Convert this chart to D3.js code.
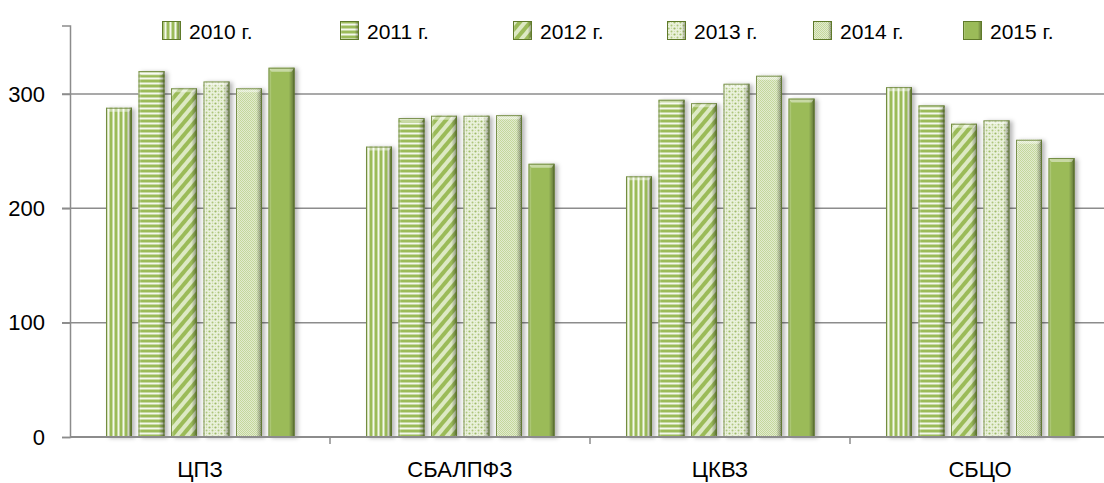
<!DOCTYPE html>
<html><head><meta charset="utf-8">
<script src="https://cdn.jsdelivr.net/npm/d3@7"></script>
<style>
html,body{margin:0;padding:0;background:#fff;}
text{font-family:"Liberation Sans",Arial,sans-serif;fill:#000;}
</style></head>
<body>
<svg id="c" width="1104" height="483"></svg>
<script>
const categories = ["ЦПЗ", "СБАЛПФЗ", "ЦКВЗ", "СБЦО"];
const years = ["2010 г.", "2011 г.", "2012 г.", "2013 г.", "2014 г.", "2015 г."];
const v2010 = [288, 254, 228, 306];
const v2011 = [320, 279, 295, 290];
const v2012 = [305, 281, 292, 274];
const v2013 = [311, 281, 309, 277];
const v2014 = [305, 281.5, 316, 260];
const v2015 = [323, 239, 296, 244];
const series = [v2010, v2011, v2012, v2013, v2014, v2015];
const yTicks = [0, 100, 200, 300];

const svg = d3.select("#c");
const defs = svg.append("defs");
const G = "#9bbb59";

function pat(id, w, h, build, extra){
  const p = defs.append("pattern").attr("id", id).attr("patternUnits","userSpaceOnUse")
    .attr("width", w).attr("height", h);
  if (extra) p.attr("patternTransform", extra);
  build(p);
}
pat("p0", 5, 10, p => { p.append("rect").attr("width",5).attr("height",10).attr("fill",G);
  p.append("rect").attr("x",2.5).attr("width",2).attr("height",10).attr("fill","#f4f8ec"); });
pat("p1", 10, 5, p => { p.append("rect").attr("width",10).attr("height",5).attr("fill",G);
  p.append("rect").attr("y",2.5).attr("width",10).attr("height",2).attr("fill","#f4f8ec"); });
pat("p2", 8, 10, p => { p.append("rect").attr("width",8).attr("height",10).attr("fill",G);
  p.append("rect").attr("width",4).attr("height",10).attr("fill","#dde9c4"); }, "rotate(40)");
pat("p3", 6, 6, p => { p.append("rect").attr("width",6).attr("height",6).attr("fill","#eaf1dc");
  p.append("circle").attr("cx",1.5).attr("cy",1.5).attr("r",1.1).attr("fill","#9fbb68");
  p.append("circle").attr("cx",4.5).attr("cy",4.5).attr("r",1).attr("fill","#adc67c");
  p.append("circle").attr("cx",4.5).attr("cy",1.2).attr("r",0.6).attr("fill","#c2d697");
  p.append("circle").attr("cx",1.3).attr("cy",4.6).attr("r",0.5).attr("fill","#c2d697"); });
pat("p4", 2, 2, p => { p.append("rect").attr("width",2).attr("height",2).attr("fill","#e2ebcf");
  p.append("rect").attr("width",1).attr("height",1).attr("fill","#c4d79b");
  p.append("rect").attr("x",1).attr("y",1).attr("width",1).attr("height",1).attr("fill","#c4d79b"); });
pat("p5", 4, 4, p => { p.append("rect").attr("width",4).attr("height",4).attr("fill",G); });

const gr = defs.append("linearGradient").attr("id","bev").attr("x1","0").attr("x2","1").attr("y1","0").attr("y2","0");
[[0,"#ffffff",0.45],[0.12,"#ffffff",0],[0.78,"#000000",0],[0.92,"#000000",0.25],[1,"#000000",0.55]]
  .forEach(s => gr.append("stop").attr("offset",s[0]).attr("stop-color",s[1]).attr("stop-opacity",s[2]));
const f = defs.append("filter").attr("id","sh").attr("x","-20%").attr("y","-5%").attr("width","160%").attr("height","110%");
f.append("feDropShadow").attr("dx",3).attr("dy",1).attr("stdDeviation",2).attr("flood-color","#000").attr("flood-opacity",0.28);

const x0 = d3.scaleBand().domain(categories).range([70, 1110]).padding(0);
const x1 = d3.scaleBand().domain(years).range([32.75, 227.75]).paddingInner(0.2).paddingOuter(0.1);
const y = d3.scaleLinear().domain([0, 360]).range([437, 25.4]);
const RIGHT = 1104;

const grid = "#8c8c8c";
svg.append("g").selectAll("line").data(yTicks.filter(t => t > 0)).join("line")
  .attr("x1", 62).attr("x2", RIGHT).attr("y1", d => y(d)).attr("y2", d => y(d))
  .attr("stroke", grid).attr("stroke-width", 1.5);

const ya = svg.append("g").attr("transform","translate(70,0)")
  .call(d3.axisLeft(y).tickValues(yTicks).tickSize(8).tickPadding(17).tickFormat(d3.format("d")));
ya.select(".domain").attr("stroke", grid).attr("stroke-width",1.5);
ya.selectAll(".tick line").attr("stroke", grid).attr("stroke-width",1.5);
ya.selectAll(".tick text").attr("font-size", 22).attr("font-family", null).attr("fill","#000");

const groups = svg.append("g").selectAll("g").data(categories).join("g")
  .attr("transform", d => `translate(${x0(d)},0)`);
groups.each(function(cat, ci){
  const g = d3.select(this);
  years.forEach((yr, si) => {
    const v = series[si][ci];
    const bx = x1(yr), bw = x1.bandwidth(), by = y(v), bh = y(0) - y(v);
    const b = g.append("g").attr("filter","url(#sh)");
    b.append("rect").attr("x",bx).attr("y",by).attr("width",bw).attr("height",bh)
      .attr("fill",`url(#p${si})`);
    b.append("rect").attr("x",bx).attr("y",by).attr("width",bw).attr("height",bh)
      .attr("fill","url(#bev)");
    b.append("path").attr("d",`M${bx},${by}h${bw}l-3,4h${-(bw-6)}z`).attr("fill","#fff").attr("fill-opacity",0.45);
    b.append("rect").attr("x",bx+0.5).attr("y",by+0.5).attr("width",bw-1).attr("height",bh-1)
      .attr("fill","none").attr("stroke","#5f7a2a").attr("stroke-width",1).attr("stroke-opacity",0.8);
  });
});

const xa = svg.append("g");
xa.append("line").attr("x1",70).attr("x2",RIGHT).attr("y1",y(0)).attr("y2",y(0)).attr("stroke",grid).attr("stroke-width",2);
const bounds = categories.slice(1).map(c => x0(c));
xa.selectAll(".tk").data(bounds).join("line").attr("class","tk")
  .attr("x1", d => d).attr("x2", d => d).attr("y1", y(0)).attr("y2", y(0)+7).attr("stroke",grid).attr("stroke-width",1.5);
xa.selectAll(".lb").data(categories).join("text").attr("class","lb")
  .attr("x", d => x0(d) + x0.bandwidth()/2).attr("y", 477).attr("text-anchor","middle")
  .attr("font-size", 22).text(d => d);

const legX = [162, 340, 513, 667, 813, 963];
const leg = svg.append("g").selectAll("g").data(years).join("g")
  .attr("transform", (d,i) => `translate(${legX[i]},21)`);
leg.each(function(d, i){
  const g = d3.select(this);
  g.append("rect").attr("width",19).attr("height",19).attr("fill",`url(#p${i})`);
  g.append("rect").attr("width",19).attr("height",19).attr("fill","url(#bev)");
  g.append("rect").attr("x",0.5).attr("y",0.5).attr("width",18).attr("height",18).attr("fill","none").attr("stroke","#5f7a2a");
  g.append("text").attr("x",27).attr("y",18).attr("font-size",21).text(d);
});
</script>
</body></html>
